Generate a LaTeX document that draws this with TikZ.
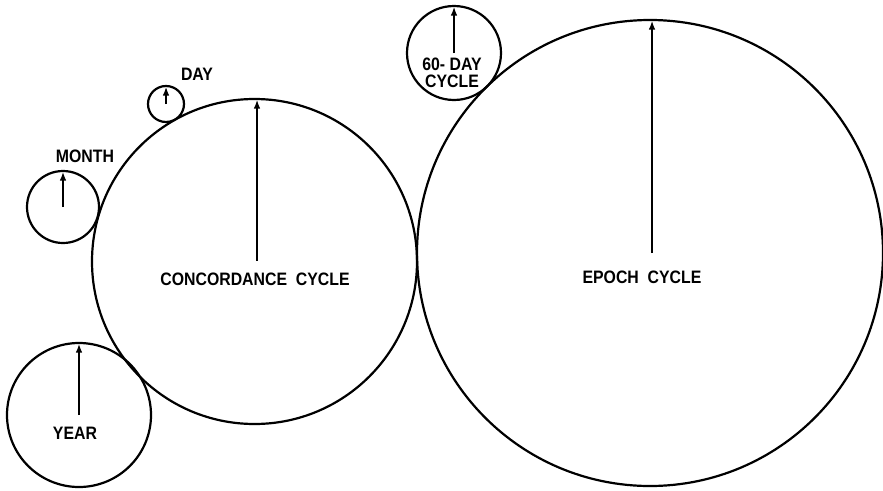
\documentclass[tikz,border=0pt]{standalone}
\usepackage{fontspec}
\setmainfont{Liberation Sans}
\usetikzlibrary{arrows.meta}
\newcommand{\narrowtxt}[1]{\scalebox{0.88}[1]{#1}}
\tikzset{
  ring/.style={draw, circle, line width=2.2pt, inner sep=0pt, outer sep=0pt},
  hand/.style={line width=2.2pt, -{Latex[length=9pt,width=6.5pt]}, shorten >=0.5pt},
  lbl/.style={font=\fontsize{18}{19}\selectfont\bfseries, inner sep=0pt, align=center}
}
\begin{document}
\begin{tikzpicture}[x=1pt,y=-1pt]
\useasboundingbox (0,0) rectangle (883,490);
\node[ring, minimum size=325pt] (conc) at (254.5,261.5) {};
\node[ring, minimum size=466pt] (epoch) at (650,253) {};
\node[ring, minimum size=72pt] (month) at (63,207) {};
\node[ring, minimum size=36pt] (day) at (166,104) {};
\node[ring, minimum size=94pt] (sixty) at (454,53) {};
\node[ring, minimum size=144pt] (year) at (79,415) {};
\draw[hand] (conc.center) ++(2.5,-1) coordinate (cc) -- (cc |- conc.north);
\draw[hand] (epoch.center) ++(2,0) coordinate (ec) -- (ec |- epoch.north);
\draw[hand] (month.center) -- (month.north);
\draw[hand] (day.center) -- (day.north);
\draw[hand] (sixty.center) -- (sixty.north);
\draw[hand] (year.center) -- (year.north);
\node[lbl] (tconc) at (255,279) {\narrowtxt{CONCORDANCE\ \ CYCLE}};
\node[lbl] (tepoch) at (642,277) {\narrowtxt{EPOCH\ \ CYCLE}};
\node[lbl] (tmonth) at (85,156) {\narrowtxt{MONTH}};
\node[lbl] (tday) at (197,74) {\narrowtxt{DAY}};
\node[lbl, font=\fontsize{18}{17}\selectfont\bfseries] (tsixty) at (452,73) {\narrowtxt{60- DAY}\\\narrowtxt{CYCLE}};
\node[lbl] (tyear) at (75,433) {\narrowtxt{YEAR}};
\end{tikzpicture}
\end{document}
